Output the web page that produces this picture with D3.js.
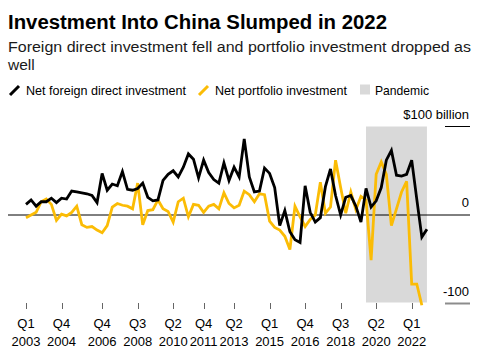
<!DOCTYPE html>
<html>
<head>
<meta charset="utf-8">
<script src="https://cdn.jsdelivr.net/npm/d3@7"></script>
<style>
  html, body { margin: 0; padding: 0; background: #fff; }
  svg { display: block; font-family: "Liberation Sans", Arial, Helvetica, sans-serif; }
</style>
</head>
<body>
<svg id="chart" width="485" height="359"></svg>
<script>
// ---- Data (billion USD, quarterly from 2003 Q1) ----
const quarters = [];
for (let yr = 2003; yr <= 2022; yr++) for (let q = 1; q <= 4; q++) quarters.push(yr + "Q" + q);

const netFDI = [
  12, 17, 10, 15, 15, 19, 14, 19, 18, 27,
  26, 25, 24, 22, 14, 47, 28, 35, 33, 49,
  29, 28, 30, 36, 20, 16, 17, 39, 46, 50,
  43, 54, 69, 63, 42, 62, 48, 40, 36, 59,
  39, 54, 43, 86, 43, 26, 27, 53, 47, 31,
  -12, 5, -19, -28, -31, 33, 3, -8, -3, 32,
  52, 22, 0, 20, 22, 10, -8, 30, 9, 16,
  31, 62, 73, 45, 44, 46, 62, 18, -25, -16
];

const netPortfolio = [
  -3, 0, 3, 15, 18, 12, -6, 1, -1, 3,
  10, -11, -14, -13, -17, -20, -12, 9, 13, 11,
  10, 7, 36, -11, 5, 6, 17, 7, 4, -8,
  15, 19, -2, 12, 11, 3, 10, 12, 7, 25,
  13, 8, 11, 27, 23, 15, 24, 23, -7, -14,
  -17, -24, -39, 10, -2, -13, -5, 0, 37, 2,
  9, 62, 31, 2, 26, 6, 21, 17, -51, 46,
  60, 46, -12, 7, 26, 38, -78, -78, -102
];

const pandemicRange = ["2019Q4", "2022Q4"];
const tickQuarters = ["Q1", "Q4", "Q4", "Q3", "Q2", "Q4", "Q2", "Q1", "Q4", "Q3", "Q2", "Q1"];
const tickYears = ["2003", "2004", "2006", "2008", "2010", "2011", "2013", "2015", "2016", "2018", "2020", "2022"];
const yTickValues = [100, 0, -100];
const yTickLabels = ["$100 billion", "0", "-100"];

// ---- Layout ----
const svg = d3.select("#chart");
const x = d3.scaleLinear().domain([0, 76]).range([26, 411.7]);
const y = d3.scaleLinear().domain([-100, 100]).range([303.5, 126.5]);
const idx = q => quarters.indexOf(q);

// Title & subtitle
svg.append("text").attr("x", 8).attr("y", 28.5)
  .attr("font-size", 20).attr("font-weight", "bold").attr("fill", "#000")
  .attr("textLength", 379).attr("lengthAdjust", "spacingAndGlyphs")
  .text("Investment Into China Slumped in 2022");
svg.append("text").attr("x", 8).attr("y", 51.5)
  .attr("font-size", 15.5).attr("fill", "#1a1a1a")
  .attr("textLength", 463).attr("lengthAdjust", "spacingAndGlyphs")
  .text("Foreign direct investment fell and portfolio investment dropped as");
svg.append("text").attr("x", 8).attr("y", 70)
  .attr("font-size", 15.5).attr("fill", "#1a1a1a")
  .text("well");

// Legend
const legend = svg.append("g").attr("font-size", 13).attr("fill", "#000");
legend.append("line").attr("x1", 10).attr("y1", 95).attr("x2", 19).attr("y2", 86)
  .attr("stroke", "#000").attr("stroke-width", 3);
legend.append("text").attr("x", 26).attr("y", 95)
  .attr("textLength", 160).attr("lengthAdjust", "spacingAndGlyphs")
  .text("Net foreign direct investment");
legend.append("line").attr("x1", 199).attr("y1", 95).attr("x2", 208).attr("y2", 86)
  .attr("stroke", "#fbbc05").attr("stroke-width", 3);
legend.append("text").attr("x", 215).attr("y", 95)
  .attr("textLength", 132).attr("lengthAdjust", "spacingAndGlyphs")
  .text("Net portfolio investment");
legend.append("rect").attr("x", 360).attr("y", 84.5).attr("width", 10).attr("height", 10)
  .attr("fill", "#d9d9d9");
legend.append("text").attr("x", 375).attr("y", 95)
  .attr("textLength", 54).attr("lengthAdjust", "spacingAndGlyphs")
  .text("Pandemic");

// Pandemic shading
svg.append("rect")
  .attr("x", x(idx(pandemicRange[0])))
  .attr("y", y(100))
  .attr("width", x(idx(pandemicRange[1])) - x(idx(pandemicRange[0])))
  .attr("height", y(-100) - y(100) - 1)
  .attr("fill", "#d9d9d9");

// Y ticks (right side)
yTickValues.forEach((v, i) => {
  if (v === 0) {
    svg.append("line").attr("x1", 8).attr("x2", 470)
      .attr("y1", y(0)).attr("y2", y(0)).attr("stroke", "#000").attr("stroke-width", 1);
  } else {
    svg.append("line").attr("x1", 445).attr("x2", 470)
      .attr("y1", y(v)).attr("y2", y(v))
      .attr("stroke", v < 0 ? "#8c8c8c" : "#000").attr("stroke-width", v < 0 ? 2 : 1);
  }
  svg.append("text").attr("x", 469).attr("y", y(v) - 8)
    .attr("text-anchor", "end").attr("font-size", 13).attr("fill", "#000")
    .text(yTickLabels[i]);
});

// X ticks
const tickIdx = tickQuarters.map((q, i) => idx(tickYears[i] + q));
const xt = svg.append("g");
tickIdx.forEach((ti, i) => {
  const px = Math.round(x(ti)) + 0.5;
  xt.append("line").attr("x1", px).attr("x2", px).attr("y1", 303).attr("y2", 309)
    .attr("stroke", "#666").attr("stroke-width", 1);
  xt.append("text").attr("x", x(ti)).attr("y", 328).attr("text-anchor", "middle")
    .attr("font-size", 13).attr("fill", "#000").text(tickQuarters[i]);
  xt.append("text").attr("x", x(ti)).attr("y", 346).attr("text-anchor", "middle")
    .attr("font-size", 13).attr("fill", "#000").text(tickYears[i]);
});

// Lines
const line = d3.line().x((d, i) => x(i)).y(d => y(d)).curve(d3.curveLinear);
svg.append("path").datum(netPortfolio).attr("d", line)
  .attr("fill", "none").attr("stroke", "#fbbc05").attr("stroke-width", 2.8)
  .attr("stroke-linejoin", "miter");
svg.append("path").datum(netFDI).attr("d", line)
  .attr("fill", "none").attr("stroke", "#000").attr("stroke-width", 2.8)
  .attr("stroke-linejoin", "miter");
</script>
</body>
</html>
